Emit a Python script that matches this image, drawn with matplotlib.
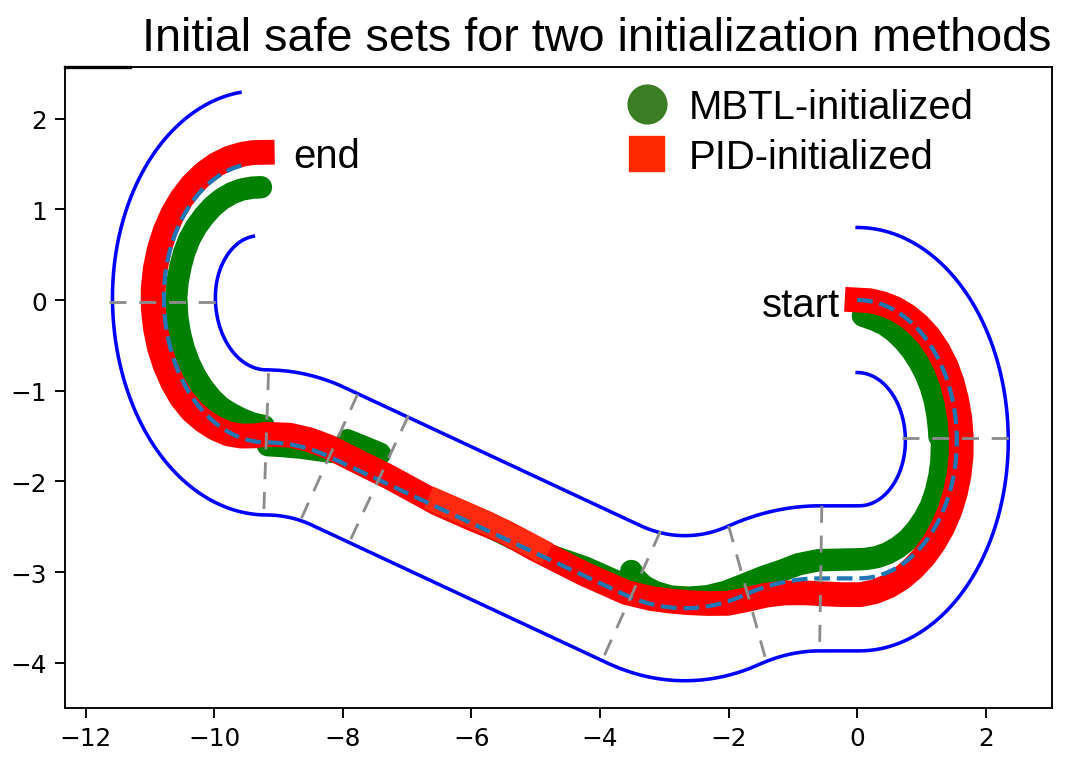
import numpy as np
import matplotlib
matplotlib.use('Agg')
import matplotlib.pyplot as plt
from matplotlib.lines import Line2D

# track centre line, built from pieces: length and curvature (+ = left turn)
piece_len = [2.435, 2.388, 0.60, 1.209, 1.897, 4.831, 0.987, 2.513, 2.131]
piece_curv = [-1/1.55, -1/1.52, 0.0, 1/3.89, -1/3.01, 0.0, 1/3.09, -1/1.60, -1/1.48]
half_width = 0.8

# segment borders (grey dashes), end points
seg_x0 = [0.70, -0.55, -2.00, -3.06, -6.98, -7.77, -9.155, -11.63]
seg_y0 = [-1.52, -2.27, -2.49, -2.55, -1.277, -1.04, -0.806, -0.02]
seg_x1 = [2.40, -0.585, -1.40, -3.97, -7.91, -8.67, -9.23, -9.97]
seg_y1 = [-1.52, -3.87, -4.02, -3.98, -2.69, -2.45, -2.38, -0.02]

# PID-initialized safe set: arc length s and lateral offset e (+ = left of travel)
pid_s = [0.0, 0.2, 0.4, 0.6, 0.8, 1.0, 1.2, 1.4, 1.6, 1.8, 2.0, 2.2, 2.4, 2.6,
         2.8, 3.0, 3.2, 3.4, 3.6, 3.8, 4.0, 4.2, 4.4, 4.6, 4.8, 5.1, 5.4, 5.7,
         6.0, 6.3, 6.6, 6.9, 7.2, 7.5, 7.8, 8.1, 8.5, 9.2, 10.0, 10.5, 11.0,
         11.6, 12.4, 13.0, 13.4, 13.7, 14.0, 14.35, 14.55, 14.75, 14.95, 15.15,
         15.35, 15.55, 15.75, 15.95, 16.15, 16.35, 16.55, 16.75, 16.95, 17.15,
         17.35, 17.55, 17.75, 17.95, 18.15, 18.35, 18.55, 18.75, 18.95, 19.1,
         19.23]
pid_e = [0.0, 0.005, 0.01, 0.02, 0.03, 0.04, 0.05, 0.055, 0.06, 0.06, 0.06,
         0.065, 0.07, 0.075, 0.08, 0.085, 0.09, 0.095, 0.10, 0.11, 0.12, 0.135,
         0.15, 0.165, 0.18, 0.18, 0.17, 0.15, 0.12, 0.09, 0.06, 0.02, -0.03,
         -0.06, -0.07, -0.06, -0.03, -0.02, -0.04, -0.07, -0.05, -0.04, -0.08,
         -0.09, -0.10, -0.10, -0.10, -0.09, -0.06, -0.02, 0.02, 0.05, 0.08,
         0.11, 0.13, 0.14, 0.15, 0.16, 0.165, 0.17, 0.17, 0.165, 0.16, 0.155,
         0.15, 0.145, 0.14, 0.135, 0.13, 0.125, 0.12, 0.12, 0.12]
# short stretch of a second PID lap, slightly orange in the picture
pid2_s = [9.8, 10.3, 10.8, 11.3, 11.75]
pid2_e = [-0.05, -0.07, -0.08, -0.07, -0.06]

# MBTL-initialized safe set, one piece per segment
mbtl_s = [
    [0.1, 0.3, 0.5, 0.7, 0.9, 1.1, 1.3, 1.5, 1.7, 1.9, 2.1, 2.3, 2.38],
    [2.48, 2.7, 2.9, 3.1, 3.3, 3.5, 3.7, 3.9, 4.1, 4.3, 4.5, 4.7, 4.85, 5.15,
     5.45, 5.75, 6.0, 6.3, 6.6, 6.9, 7.2, 7.5, 7.8, 8.05, 8.25, 8.4, 8.5],
    [8.55, 9.2, 9.7, 10.0, 10.8, 11.6, 12.4],
    [12.62, 12.9, 13.15],
    [13.35, 13.8, 14.1, 14.33],
    [14.4, 14.6, 14.8, 15.0, 15.2, 15.4, 15.6, 15.8, 16.0, 16.2, 16.4, 16.6,
     16.85, 17.05, 17.25, 17.45, 17.65, 17.85, 18.05, 18.25, 18.45, 18.65,
     18.85, 19.05, 19.22],
]
mbtl_e = [
    [-0.17, -0.19, -0.20, -0.215, -0.23, -0.24, -0.25, -0.255, -0.26, -0.265,
     -0.27, -0.27, -0.27],
    [-0.23, -0.22, -0.21, -0.20, -0.19, -0.19, -0.19, -0.19, -0.195, -0.20,
     -0.205, -0.21, -0.21, -0.205, -0.20, -0.17, -0.13, -0.115, -0.11, -0.11,
     -0.11, -0.115, -0.12, -0.14, -0.17, -0.22, -0.28],
    [-0.10, -0.09, -0.05, -0.04, -0.05, -0.04, -0.07],
    [-0.28, -0.27, -0.26],
    [-0.06, 0.01, 0.03, 0.03],
    [-0.18, -0.19, -0.20, -0.20, -0.19, -0.19, -0.19, -0.19, -0.19, -0.19,
     -0.19, -0.19, -0.19, -0.20, -0.21, -0.215, -0.22, -0.23, -0.24, -0.245,
     -0.25, -0.255, -0.26, -0.265, -0.265],
]


def step(x, y, h, ds, k):
    k = np.asarray(k, float)
    kk = np.where(k == 0, 1.0, k)
    xa = x + (np.sin(h + kk * ds) - np.sin(h)) / kk
    ya = y - (np.cos(h + kk * ds) - np.cos(h)) / kk
    xs = x + ds * np.cos(h)
    ys = y + ds * np.sin(h)
    return np.where(k == 0, xs, xa), np.where(k == 0, ys, ya), h + k * ds


def pose(s):
    s = np.asarray(s, float)
    lens = np.array(piece_len)
    curv = np.array(piece_curv)
    ends = np.cumsum(lens)
    starts = ends - lens
    px, py, ph = [0.0], [0.0], [0.0]
    for L, k in zip(lens[:-1], curv[:-1]):
        x, y, h = step(px[-1], py[-1], ph[-1], L, k)
        px.append(float(x)); py.append(float(y)); ph.append(float(h))
    px, py, ph = np.array(px), np.array(py), np.array(ph)
    i = np.clip(np.searchsorted(ends, s), 0, len(lens) - 1)
    return step(px[i], py[i], ph[i], s - starts[i], curv[i])


def offset(s, e):
    x, y, h = pose(s)
    e = np.asarray(e, float)
    return x - e * np.sin(h), y + e * np.cos(h)


fig = plt.figure(figsize=(1086 / 170, 782 / 170), dpi=170)
ax = fig.add_axes([65 / 1086, 1 - 709 / 782, 987 / 1086, 641 / 782])

sc = np.linspace(0, sum(piece_len), 900)
xc, yc, hc = pose(sc)
ax.plot(xc - half_width * np.sin(hc), yc + half_width * np.cos(hc), color='blue', lw=1.5, zorder=2)
ax.plot(xc + half_width * np.sin(hc), yc - half_width * np.cos(hc), color='blue', lw=1.5, zorder=2)

for s_, e_ in zip(mbtl_s, mbtl_e):
    gx, gy = offset(s_, e_)
    ax.plot(gx, gy, color='green', lw=9.5, solid_capstyle='round',
            solid_joinstyle='round', zorder=3)

rx, ry = offset(pid_s, pid_e)
ax.plot(rx, ry, color='red', lw=10.5, solid_capstyle='projecting',
        solid_joinstyle='round', zorder=4)
rx2, ry2 = offset(pid2_s, pid2_e)
ax.plot(rx2, ry2, color='#ff2a10', lw=10, solid_capstyle='butt',
        solid_joinstyle='round', zorder=4.5)

ax.plot(xc, yc, '--', color='#1f77b4', lw=1.8, zorder=5)

for a, b, c, d in zip(seg_x0, seg_y0, seg_x1, seg_y1):
    ax.plot([a, c], [b, d], color='#8c8c8c', lw=1.2, dashes=(6, 4.5), zorder=6)

font = 'Liberation Sans'
ax.text(-8.77, 1.59, 'end', fontsize=17, family=font, va='center')
ax.text(-0.26, -0.05, 'start', fontsize=17, family=font, va='center', ha='right')

handles = [Line2D([], [], marker='o', color='#3a7d22', ls='None', markersize=16),
           Line2D([], [], marker='s', color='#ff2a00', ls='None', markersize=14.5)]
ax.legend(handles, ['MBTL-initialized', 'PID-initialized'], loc='upper left',
          bbox_to_anchor=(0.553, 0.992), frameon=False, borderaxespad=0,
          handlelength=1.0, handletextpad=0.55, labelspacing=0.3,
          prop={'family': font, 'size': 17})

ax.set_title('Initial safe sets for two initialization methods', loc='right',
             fontsize=19.8, family=font, pad=7)

ax.set_xlim(-12.32, 3.03)
ax.set_ylim(-4.50, 2.57)
ax.set_xticks(np.arange(-12, 3, 2))
ax.set_yticks(np.arange(-4, 3, 1))
ax.tick_params(labelsize=10.5, length=4.2)
ax.plot([0, 0.066], [1, 1], transform=ax.transAxes, color='k', lw=1.4, clip_on=False)

fig.savefig('out.png', dpi=170)
